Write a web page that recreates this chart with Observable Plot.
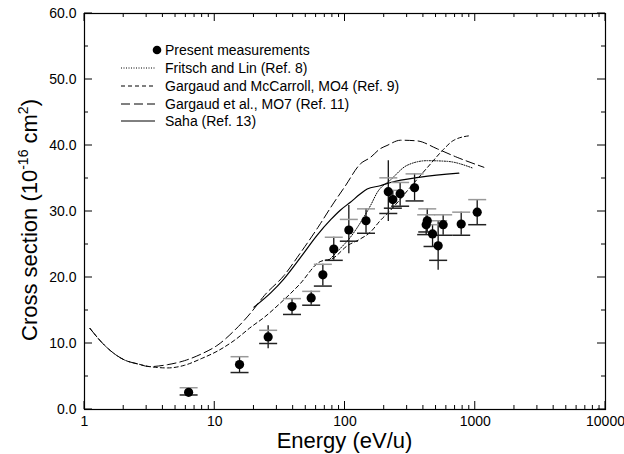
<!DOCTYPE html>
<html><head><meta charset="utf-8">
<script src="https://cdn.jsdelivr.net/npm/d3@7"></script>
<script src="https://cdn.jsdelivr.net/npm/@observablehq/plot@0.6"></script>
<style>body{margin:0;background:#fff}</style>
</head><body><div id="chart"></div>
<script>
// Measurements
const measE  = [6.3, 15.5, 25.7, 39.2, 55, 67.6, 82, 107, 145, 215, 233, 265, 342, 420, 428, 470, 519, 567, 780, 1035];
const measY  = [2.6, 6.8, 11.0, 15.6, 16.9, 20.4, 24.3, 27.2, 28.6, 33.0, 31.8, 32.7, 33.6, 28.0, 28.6, 26.6, 24.8, 28.0, 28.1, 29.9];
const capHi  = [3.3, 8.0, 12.0, 16.8, 17.9, 22.0, 26.1, 28.8, 30.4, 35.1, 33.2, 34.4, 35.7, 29.5, 30.4, 28.0, 28.6, 29.5, 29.9, 31.8];
const capLo  = [2.2, 5.6, 10.0, 14.4, 15.8, 18.7, 22.6, 25.5, 26.7, 29.7, 30.5, 30.8, 31.6, 26.5, 26.9, 24.7, 22.6, 26.4, 26.4, 28.0];
const barHi  = [3.3, 8.0, 12.7, 16.8, 17.9, 22.0, 26.1, 30.9, 30.4, 37.7, 33.2, 34.4, 35.7, 29.5, 30.4, 28.0, 28.6, 29.5, 29.9, 31.8];
const barLo  = [2.2, 5.6, 9.2, 14.4, 15.8, 18.7, 22.6, 23.6, 26.7, 28.5, 30.5, 30.8, 31.6, 26.5, 26.9, 24.7, 21.1, 26.4, 26.4, 28.0];

// Theory curves
const fritschE = [75, 90, 110, 139, 157, 177, 224, 300, 427, 609, 950];
const fritschY = [22.6, 24.2, 26.1, 29.1, 30.9, 32.9, 34.8, 37.0, 37.7, 37.6, 36.6];
const mo4E = [1.1, 1.43, 2.03, 2.57, 3.16, 4.36, 5.86, 7.87, 10.6, 14.2, 19, 24.1, 31, 45, 63, 82, 104, 130, 157, 186, 224, 318, 453, 557, 685, 920];
const mo4Y = [12.3, 9.7, 7.5, 6.9, 6.5, 6.3, 6.7, 7.7, 8.9, 10.5, 12.5, 14.0, 15.9, 19.0, 22.3, 23.0, 24.8, 25.8, 26.9, 28.6, 30.2, 33.7, 37.2, 39.2, 40.8, 41.5];
const mo7E = [1.1, 1.43, 2.03, 2.57, 3.16, 4.36, 5.86, 7.87, 10.6, 14.2, 19, 24.1, 34, 45, 63, 80, 100, 131, 157, 186, 210, 267, 358, 510, 727, 1165];
const mo7Y = [12.3, 9.7, 7.5, 6.9, 6.5, 6.8, 7.4, 8.4, 9.8, 12.0, 14.7, 17.3, 20.3, 23.6, 27.8, 31.0, 33.8, 37.2, 38.2, 39.5, 40.0, 40.8, 40.7, 39.5, 38.2, 36.7];
const sahaE = [20, 27, 34, 45, 61, 78, 92, 110, 130, 148, 186, 224, 380, 748];
const sahaY = [15.5, 17.7, 19.8, 22.9, 26.4, 28.8, 30.2, 31.4, 32.6, 33.4, 33.9, 34.4, 35.2, 35.8];

// Axis ticks
const xMajor = [1, 10, 100, 1000, 10000];
const xMinor = [2,3,4,5,6,7,8,9].flatMap(m => [1, 10, 100, 1000].map(d => m * d));
const yMajor = [0, 10, 20, 30, 40, 50, 60];
const yMinor = [5, 15, 25, 35, 45, 55];

const legendLabels = ["Present measurements", "Fritsch and Lin (Ref. 8)", "Gargaud and McCarroll, MO4 (Ref. 9)", "Gargaud et al., MO7 (Ref. 11)", "Saha (Ref. 13)"];

const meas = measE.map((E, i) => ({E, y: measY[i], capHi: capHi[i], capLo: capLo[i], barHi: barHi[i], barLo: barLo[i]}));
const toRows = (es, ys) => es.map((E, i) => ({E, v: ys[i]}));

const W = 624, H = 454, ML = 84, MR = 19, MT = 13, MB = 45;
const innerW = W - ML - MR, innerH = H - MT - MB;

const capSymbol = {draw(ctx) { ctx.moveTo(-9, 0); ctx.lineTo(9, 0); }};
const font = "'Liberation Sans', Arial, Helvetica, sans-serif";

const svg = Plot.plot({
  width: W, height: H,
  marginLeft: ML, marginRight: MR, marginTop: MT, marginBottom: MB,
  style: {fontFamily: font, fontSize: "14px", color: "black", background: "white"},
  x: {type: "log", domain: [1, 10000]},
  y: {domain: [0, 60]},
  marks: [
    Plot.axisX(xMajor, {anchor: "bottom", tickSize: 0, tickPadding: 7, tickFormat: d => String(d), fontSize: 14, label: null}),
    Plot.axisY(yMajor, {anchor: "left", tickSize: 0, tickPadding: 8, tickFormat: d => d.toFixed(1), fontSize: 14, label: null}),
    Plot.frame({stroke: "black", strokeWidth: 1.2}),
    Plot.line(toRows(fritschE, fritschY), {x: "E", y: "v", curve: "monotone-x", stroke: "black", strokeWidth: 1, strokeDasharray: "1,1.5"}),
    Plot.line(toRows(mo4E, mo4Y), {x: "E", y: "v", curve: "monotone-x", stroke: "black", strokeWidth: 1, strokeDasharray: "4,3"}),
    Plot.line(toRows(mo7E, mo7Y), {x: "E", y: "v", curve: "monotone-x", stroke: "black", strokeWidth: 1, strokeDasharray: "9,4"}),
    Plot.line(toRows(sahaE, sahaY), {x: "E", y: "v", curve: "monotone-x", stroke: "black", strokeWidth: 1.2}),
    Plot.ruleX(meas, {x: "E", y1: "barLo", y2: "barHi", stroke: "#111", strokeWidth: 1.3}),
    Plot.dot(meas, {x: "E", y: "capHi", symbol: capSymbol, stroke: "#999", strokeWidth: 1.5, fill: "none"}),
    Plot.dot(meas, {x: "E", y: "capLo", symbol: capSymbol, stroke: "#222", strokeWidth: 1.5, fill: "none"}),
    Plot.dot(meas, {x: "E", y: "y", r: 4.6, fill: "black", stroke: "none"})
  ]
});

const s = d3.select(svg);
const sx = svg.scale("x"), sy = svg.scale("y");

// Inward tick marks on all four sides, positioned by Plot's scales
const tg = s.append("g").attr("stroke", "black").attr("stroke-width", 1);
const yB = H - MB, yT = MT, xL = ML, xR = W - MR;
[[xMajor, 8], [xMinor, 4]].forEach(([vals, len]) => {
  vals.forEach(v => {
    const px = sx.apply(v);
    tg.append("line").attr("x1", px).attr("x2", px).attr("y1", yB).attr("y2", yB - len);
    tg.append("line").attr("x1", px).attr("x2", px).attr("y1", yT).attr("y2", yT + len);
  });
});
[[yMajor, 8], [yMinor, 4]].forEach(([vals, len]) => {
  vals.forEach(v => {
    const py = sy.apply(v);
    tg.append("line").attr("x1", xL).attr("x2", xL + len).attr("y1", py).attr("y2", py);
    tg.append("line").attr("x1", xR).attr("x2", xR - len).attr("y1", py).attr("y2", py);
  });
});

// Axis titles
s.append("text").attr("x", ML + innerW / 2).attr("y", 448).attr("text-anchor", "middle")
  .attr("font-family", font).attr("font-size", 22).attr("fill", "black").text("Energy (eV/u)");

const yl = s.append("text").attr("transform", "translate(37,220) rotate(-90)").attr("text-anchor", "middle")
  .attr("font-family", font).attr("font-size", 22).attr("fill", "black");
yl.append("tspan").text("Cross section (10");
yl.append("tspan").attr("font-size", 14).attr("dy", -9).text("-16");
yl.append("tspan").attr("dy", 9).text(" cm");
yl.append("tspan").attr("font-size", 14).attr("dy", -9).text("2");
yl.append("tspan").attr("dy", 9).text(")");

// Legend
const lg = s.append("g").attr("font-family", font).attr("font-size", 14).attr("text-anchor", "start");
const rowY = [50, 68, 86, 104, 121];
const dashes = [null, "1,1.5", "4,3", "9,4", null];
legendLabels.forEach((t, i) => {
  lg.append("text").attr("x", 165).attr("y", rowY[i] + 5).attr("fill", "black").text(t);
  if (i === 0) {
    lg.append("circle").attr("cx", 157).attr("cy", rowY[i]).attr("r", 4.3).attr("fill", "black");
  } else {
    const ln = lg.append("line").attr("x1", 121).attr("x2", 155).attr("y1", rowY[i]).attr("y2", rowY[i])
      .attr("stroke", "black").attr("stroke-width", 1);
    if (dashes[i]) ln.attr("stroke-dasharray", dashes[i]);
  }
});

document.getElementById("chart").appendChild(svg);
</script>
</body></html>
